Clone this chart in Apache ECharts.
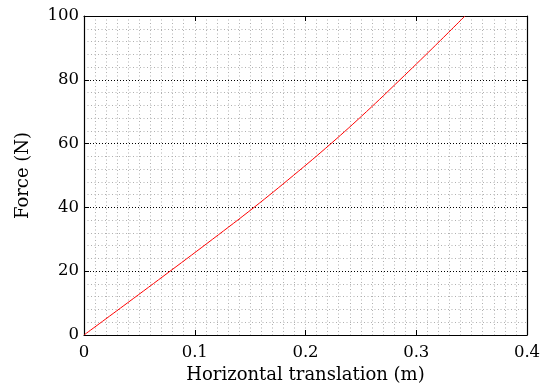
<!DOCTYPE html>
<html>
<head>
<meta charset="utf-8">
<script src="https://cdn.jsdelivr.net/npm/echarts@6/dist/echarts.min.js"></script>
<style>
  html, body { margin: 0; padding: 0; background: #fff; }
  #chart { width: 543px; height: 385px; }
</style>
</head>
<body>
<div id="chart"></div>
<script>
// Force required for a given horizontal translation
const translation = [0, 0.039, 0.0777, 0.116, 0.1535, 0.189, 0.2230, 0.255, 0.2853, 0.315, 0.3440];
const force       = [0, 10,    20,     30,    40,     50,    60,     70,    80,     90,    100];

const xTicks = [0, 0.1, 0.2, 0.3, 0.4];
const yTicks = [0, 20, 40, 60, 80, 100];

const FONT = 'DejaVu Serif';
const points = translation.map((t, i) => [t, force[i]]);

const minorStyle = { color: '#b0b0b0', width: 1, type: [1, 2.5] };
const majorStyle = { color: '#000', width: 1, type: [1, 2] };

const chart = echarts.init(document.getElementById('chart'), null, { renderer: 'canvas' });

const baseX = {
  type: 'value',
  min: xTicks[0], max: xTicks[xTicks.length - 1], interval: 0.1,
  axisLine: { show: true, onZero: false, lineStyle: { color: '#000', width: 1.2 } },
  axisTick: { show: true, inside: true, length: 5, lineStyle: { color: '#000', width: 1 } },
  minorTick: { show: false, splitNumber: 10 },
};
const baseY = {
  type: 'value',
  min: yTicks[0], max: yTicks[yTicks.length - 1], interval: 20,
  axisLine: { show: true, onZero: false, lineStyle: { color: '#000', width: 1.2 } },
  axisTick: { show: true, inside: true, length: 5, lineStyle: { color: '#000', width: 1 } },
  minorTick: { show: false, splitNumber: 5 },
};

chart.setOption({
  animation: false,
  grid: { left: 84, right: 16, top: 16, bottom: 50, containLabel: false, outerBoundsMode: 'none' },
  xAxis: [
    Object.assign({}, baseX, {
      position: 'bottom',
      name: 'Horizontal translation (m)',
      nameLocation: 'middle', nameGap: 31,
      nameTextStyle: { fontFamily: FONT, fontSize: 18, color: '#000' },
      axisLabel: { fontFamily: FONT, fontSize: 16.5, color: '#000', margin: 9,
        formatter: v => String(+v.toFixed(1)) },
      splitLine: { show: true, lineStyle: minorStyle },
      minorSplitLine: { show: true, lineStyle: minorStyle },
    }),
    Object.assign({}, baseX, {
      position: 'top',
      axisLabel: { show: false },
      splitLine: { show: false },
      minorSplitLine: { show: false },
    }),
  ],
  yAxis: [
    Object.assign({}, baseY, {
      position: 'left',
      name: 'Force (N)',
      nameLocation: 'middle', nameGap: 52,
      nameTextStyle: { fontFamily: FONT, fontSize: 18, color: '#000' },
      axisLabel: { fontFamily: FONT, fontSize: 16.5, color: '#000', margin: 5 },
      splitLine: { show: true, lineStyle: majorStyle },
      minorSplitLine: { show: true, lineStyle: minorStyle },
    }),
    Object.assign({}, baseY, {
      position: 'right',
      axisLabel: { show: false },
      splitLine: { show: false },
      minorSplitLine: { show: false },
    }),
  ],
  series: [{
    type: 'line',
    data: points,
    smooth: 0.4,
    showSymbol: false,
    lineStyle: { color: '#ff0000', width: 1 },
    z: 5,
  }],
});
</script>
</body>
</html>
